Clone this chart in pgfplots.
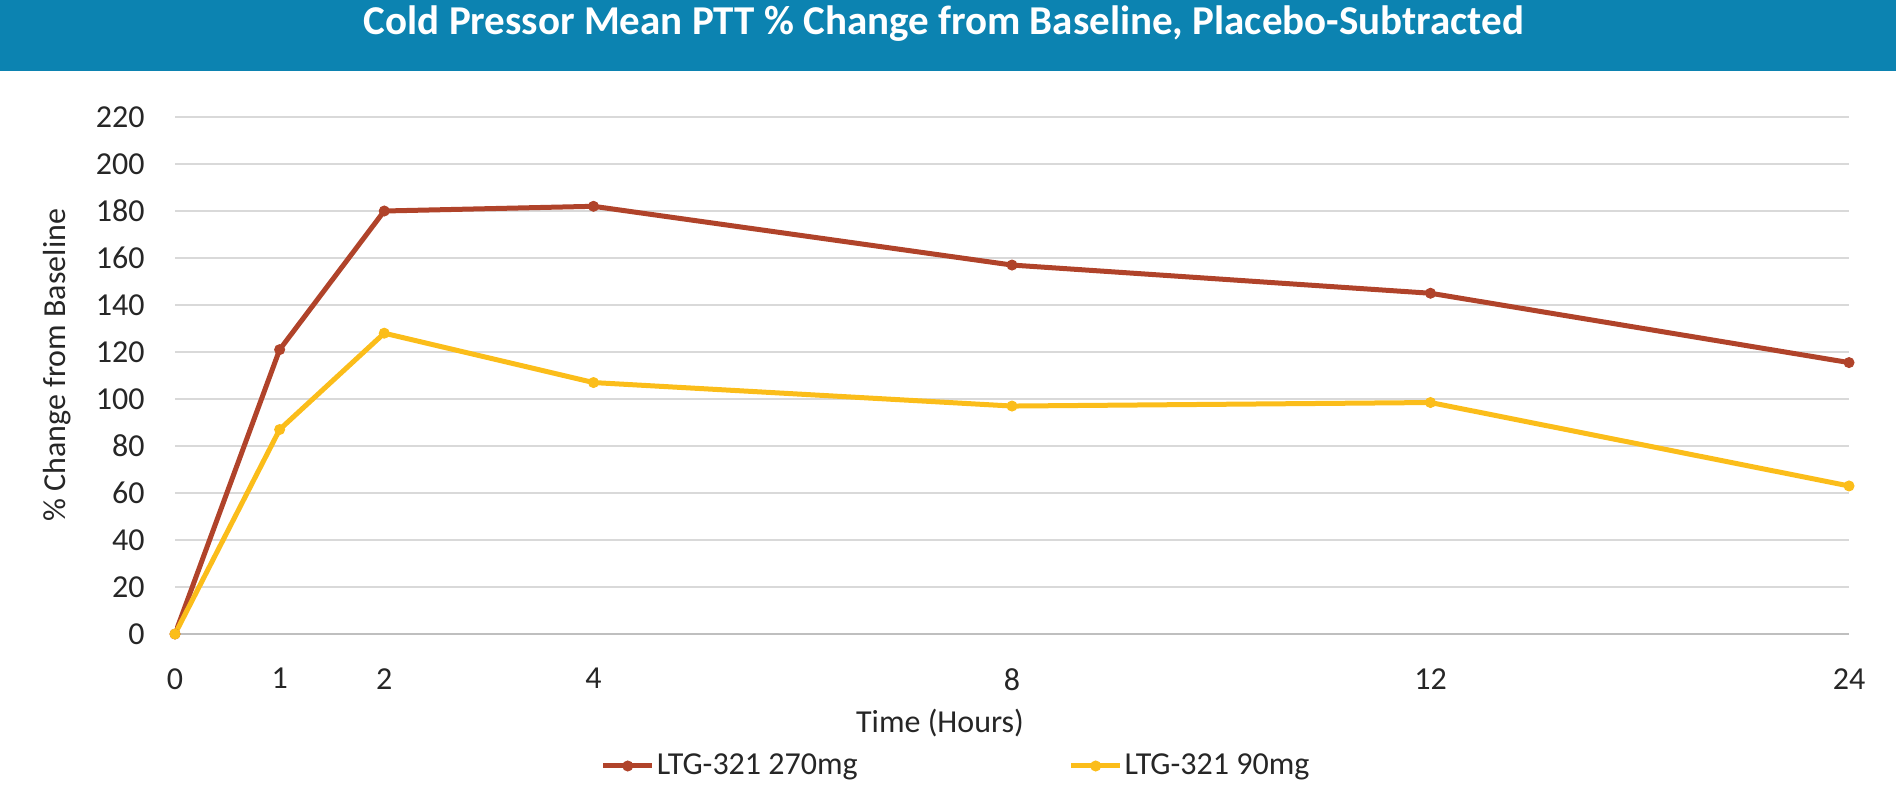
\documentclass[border=0pt]{standalone}
\usepackage{fontspec}
\setmainfont{Carlito}
\usepackage{pgfplots}
\pgfplotsset{compat=1.18}
\definecolor{banner}{HTML}{0C83B1}
\definecolor{redl}{HTML}{B0432A}
\definecolor{yell}{HTML}{FBBD1A}
\definecolor{gridc}{HTML}{D9D9D9}
\definecolor{axc}{HTML}{BFBFBF}
\definecolor{txt}{HTML}{262626}
\begin{document}
\begin{tikzpicture}
\path[use as bounding box] (0,0) rectangle (948pt,-395.5pt);
\fill[banner] (0,0) rectangle (948pt,-35.5pt);
\begin{axis}[
  scale only axis, width=837pt, height=258.5pt,
  at={(87.5pt,-317pt)}, anchor=south west,
  xmin=0, xmax=16, ymin=0, ymax=220,
  xtick={0,1,2,4,8,12,16}, xticklabels={0,1,2,4,8,12,24},
  ytick={0,20,...,220},
  axis x line*=bottom, axis y line*=left,
  x axis line style={-, draw=axc, line width=1pt},
  y axis line style={draw=none},
  ymajorgrids, major grid style={draw=gridc, line width=1pt},
  major tick length=0pt, tick style={draw=none},
  tick label style={font=\fontsize{16}{19}\selectfont, text=txt},
  /pgf/number format/assume math mode=true,
  yticklabel style={inner sep=0pt, anchor=east, xshift=-15pt},
  xticklabel style={inner sep=0pt, anchor=north, yshift=-17pt},
  title={Cold Pressor Mean PTT \% Change from Baseline, Placebo-Subtracted},
  title style={at={(axis description cs:0.4594,1.1576)}, anchor=center, font=\bfseries\fontsize{20.5}{24}\selectfont, text=white},
  xlabel={Time (Hours)},
  xlabel style={at={(axis description cs:0.457,-0.172)}, anchor=center, font=\fontsize{16}{19}\selectfont, text=txt},
  ylabel={\% Change from Baseline},
  ylabel style={at={(axis description cs:-0.0705,0.52)}, anchor=center, font=\fontsize{16}{19}\selectfont, text=txt},
  legend columns=2,
  legend style={at={(axis description cs:0.4666,-0.2553)}, anchor=center, draw=none, fill=none, inner sep=0pt,
    font=\fontsize{16}{19}\selectfont, text=txt,
    /tikz/every even column/.append style={column sep=104.5pt}, nodes={inner sep=1pt}},
  legend image code/.code={\draw[mark repeat=2,mark phase=2,#1] plot coordinates {(0pt,0pt) (12.25pt,0pt) (24.5pt,0pt)};},
]
\addplot[redl, line width=2.5pt, mark=*, mark size=2.5pt, mark options={solid, fill=redl, line width=0.5pt}]
  coordinates {(0,0) (1,121) (2,180) (4,182) (8,157) (12,145) (16,115.5)};
\addlegendentry{LTG-321 270mg}
\addplot[yell, line width=2.5pt, mark=*, mark size=2.5pt, mark options={solid, fill=yell, line width=0.5pt}]
  coordinates {(0,0) (1,87) (2,128) (4,107) (8,97) (12,98.5) (16,63)};
\addlegendentry{LTG-321 90mg}
\end{axis}
\end{tikzpicture}
\end{document}
